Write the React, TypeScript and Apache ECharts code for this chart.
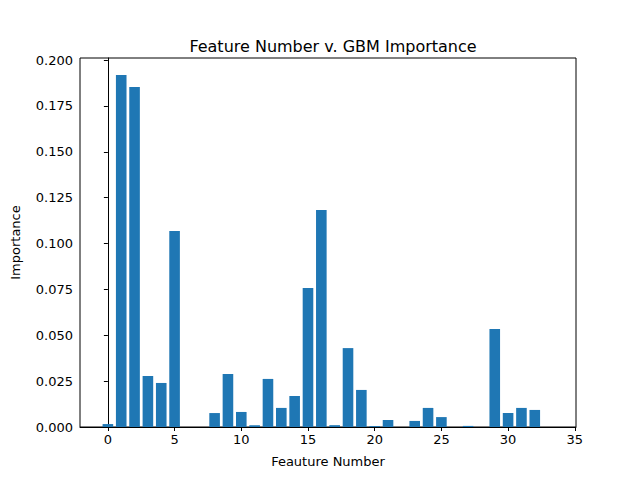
import { useEffect, useRef } from 'react'
import * as echarts from 'echarts'

const features = Array.from({ length: 34 }, (_, i) => i)
const importance = [
  0.0016, 0.1918, 0.1853, 0.0278, 0.024, 0.1068, 0, 0, 0.0076, 0.0289,
  0.0082, 0.001, 0.0262, 0.0104, 0.0169, 0.0757, 0.1183, 0.001, 0.043, 0.0202,
  0.0005, 0.0038, 0, 0.0033, 0.0104, 0.0054, 0, 0.0006, 0, 0.0534,
  0.0076, 0.0104, 0.0093, 0,
]
const xTicks = [0, 5, 10, 15, 20, 25, 30, 35]
const yTicks = [0, 0.025, 0.05, 0.075, 0.1, 0.125, 0.15, 0.175, 0.2]

export default function App() {
  const ref = useRef<HTMLDivElement>(null)

  useEffect(() => {
    if (!ref.current) return
    const chart = echarts.init(ref.current, undefined, { renderer: 'svg' })
    const font = 'DejaVu Sans'
    chart.setOption({
      animation: false,
      textStyle: { fontFamily: font },
      title: {
        text: 'Feature Number v. GBM Importance',
        left: 328,
        top: 33,
        textAlign: 'center',
        textStyle: { fontFamily: font, fontSize: 16, fontWeight: 'normal', color: '#000' },
      },
      grid: { left: 80, right: 64, top: 58, bottom: 53, show: true, borderColor: '#000', borderWidth: 1 },
      xAxis: {
        type: 'value',
        min: -2.09,
        max: 35.09,
        name: 'Feauture Number',
        nameLocation: 'middle',
        nameGap: 28,
        nameTextStyle: { fontFamily: font, fontSize: 13, color: '#000' },
        splitLine: { show: false },
        axisLine: { onZero: false, lineStyle: { color: '#000' } },
        axisTick: { show: true, length: 4, customValues: xTicks, lineStyle: { color: '#000' } },
        axisLabel: { customValues: xTicks, fontSize: 13, color: '#000', margin: 6, fontFamily: font },
      },
      yAxis: {
        type: 'value',
        min: 0,
        max: 0.2011,
        name: 'Importance',
        nameLocation: 'middle',
        nameGap: 58,
        nameTextStyle: { fontFamily: font, fontSize: 13, color: '#000' },
        splitLine: { show: false },
        axisLine: { show: true, lineStyle: { color: '#000' } },
        axisTick: { show: true, length: 4, customValues: yTicks, lineStyle: { color: '#000' } },
        axisLabel: {
          customValues: yTicks,
          fontSize: 13,
          color: '#000',
          margin: 7,
          fontFamily: font,
          formatter: (v: number) => v.toFixed(3),
        },
      },
      series: [
        {
          type: 'bar',
          barWidth: 10.6,
          itemStyle: { color: '#1f77b4' },
          data: features.map((f, i) => [f, importance[i]]),
        },
      ],
    })
    return () => chart.dispose()
  }, [])

  return <div ref={ref} style={{ width: 640, height: 480, margin: -8 }} />
}
